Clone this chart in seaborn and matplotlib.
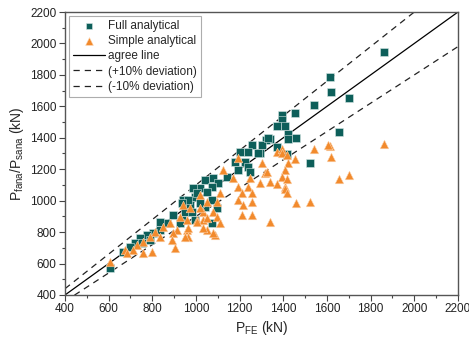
import numpy as np
import pandas as pd
import matplotlib
matplotlib.use('Agg')
from matplotlib import pyplot as plt
import seaborn as sns

# Full analytical (P_FE, P_fana)
full_x = [1861, 1614, 1618, 1701, 1655, 1540, 1453, 1394, 1394, 1371, 1408, 1421, 1421,
          1458, 1339, 1321, 1302, 1371, 1417, 1522, 1293, 1330, 1256, 1238, 1284, 1201,
          1224, 1178, 1238, 1192, 1247, 1142, 1078, 1041, 1101, 1073, 1018, 986, 1050,
          995, 940, 1073, 973, 1041, 1096, 950, 936, 995, 1073, 1005, 963, 936, 1018,
          982, 895, 867, 927, 835, 835, 803, 776, 744, 789, 721, 753, 698, 666, 606]
full_y = [1943, 1786, 1691, 1653, 1437, 1608, 1558, 1545, 1513, 1475, 1475, 1424, 1392,
          1398, 1392, 1386, 1354, 1341, 1297, 1240, 1303, 1398, 1354, 1310, 1303, 1310,
          1246, 1246, 1214, 1195, 1182, 1150, 1144, 1131, 1112, 1087, 1080, 1080, 1055,
          1023, 1004, 1004, 972, 960, 953, 928, 877, 877, 858, 1049, 1004, 985, 985,
          928, 909, 858, 858, 864, 813, 794, 782, 763, 750, 731, 731, 705, 673, 572]

# Simple analytical (P_FE, P_sana)
simple_x = [1614, 1618, 1861, 1655, 1701, 1371, 1394, 1453, 1540, 1605, 1421, 1408, 1394,
            1417, 1339, 1371, 1408, 1316, 1302, 1408, 1417, 1458, 1522, 1192, 1394, 1417,
            1124, 1325, 1169, 1247, 1192, 1238, 1210, 1256, 1110, 1018, 1192, 1215, 1256,
            1096, 940, 973, 1032, 1078, 1210, 1256, 1096, 1005, 1110, 959, 1050, 1087,
            1032, 1339, 927, 1293, 1050, 1018, 1032, 1005, 963, 913, 959, 895, 881, 849,
            812, 835, 789, 757, 730, 712, 675, 684, 757, 798, 904, 963, 890, 606, 1050,
            1078, 950]
simple_y = [1348, 1278, 1360, 1138, 1163, 1310, 1329, 1265, 1329, 1354, 1240, 1195, 1150,
            1138, 1119, 1106, 1087, 1176, 1240, 1074, 1049, 985, 992, 1271, 1303, 1290,
            1195, 1182, 1144, 1144, 1087, 1087, 1049, 1049, 1049, 1036, 1004, 972, 992,
            992, 972, 953, 928, 928, 909, 909, 896, 877, 858, 813, 813, 782,
            826, 864, 896, 1112, 992, 953, 877, 864, 826, 813, 877, 794, 858, 832,
            801, 769, 769, 737, 718, 686, 686, 667, 667, 673, 699, 769, 750, 610, 890,
            794, 769]

line_x = np.array([400, 2200])

sns.set_theme(style='ticks')
plt.rcParams['font.family'] = ['Liberation Sans', 'DejaVu Sans']
plt.rcParams['mathtext.fontset'] = 'custom'
plt.rcParams['mathtext.rm'] = 'Liberation Sans'
plt.rcParams['mathtext.it'] = 'Liberation Sans'

fig = plt.figure(figsize=(4.69, 3.43), dpi=100)
ax = fig.add_axes([0.1386, 0.140, 0.8379, 0.825])

sns.scatterplot(x=full_x, y=full_y, marker='s', s=27, color='#0d5f5a',
                edgecolor='#d6e6e4', linewidth=0.4, ax=ax, label='Full analytical', zorder=3)
sns.scatterplot(x=simple_x, y=simple_y, marker='^', s=38, color='#f28a2c',
                edgecolor='#fbd2ad', linewidth=0.4, ax=ax, label='Simple analytical', zorder=4)

ax.plot(line_x, line_x, color='black', lw=0.9, label='agree line', zorder=2)
ax.plot(line_x, 1.1 * line_x, color='#222222', lw=0.9, ls=(0, (5, 4)),
        label='(+10% deviation)', zorder=2)
ax.plot(line_x, 0.9 * line_x, color='#222222', lw=0.9, ls=(0, (5, 4)),
        label='(-10% deviation)', zorder=2)

ax.set_xlim(400, 2200)
ax.set_ylim(400, 2200)
ax.set_xticks(np.arange(400, 2201, 200))
ax.set_yticks(np.arange(400, 2201, 200))
ax.set_xticks(np.arange(500, 2200, 200), minor=True)
ax.set_yticks(np.arange(500, 2200, 200), minor=True)
ax.tick_params(axis='both', which='major', labelsize=8.5, length=4, width=0.8,
               color='#444444', labelcolor='#222222', pad=2)
ax.tick_params(axis='both', which='minor', length=2.5, width=0.8, color='#444444')
for sp in ax.spines.values():
    sp.set_visible(True)
    sp.set_color('#555555')
    sp.set_linewidth(1.0)

ax.set_xlabel('P$_{\\mathrm{FE}}$ (kN)', fontsize=10, labelpad=3)
ax.set_ylabel('P$_{\\mathrm{fana}}$/P$_{\\mathrm{sana}}$ (kN)', fontsize=10, labelpad=3)

leg = ax.legend(loc='upper left', fontsize=8.5, frameon=True, fancybox=False,
                edgecolor='#999999', borderpad=0.35, labelspacing=0.28,
                handlelength=2.7, handletextpad=0.3, borderaxespad=0.3,
                markerscale=0.9)
leg.get_frame().set_linewidth(0.8)

fig.savefig('out.png', dpi=100)
